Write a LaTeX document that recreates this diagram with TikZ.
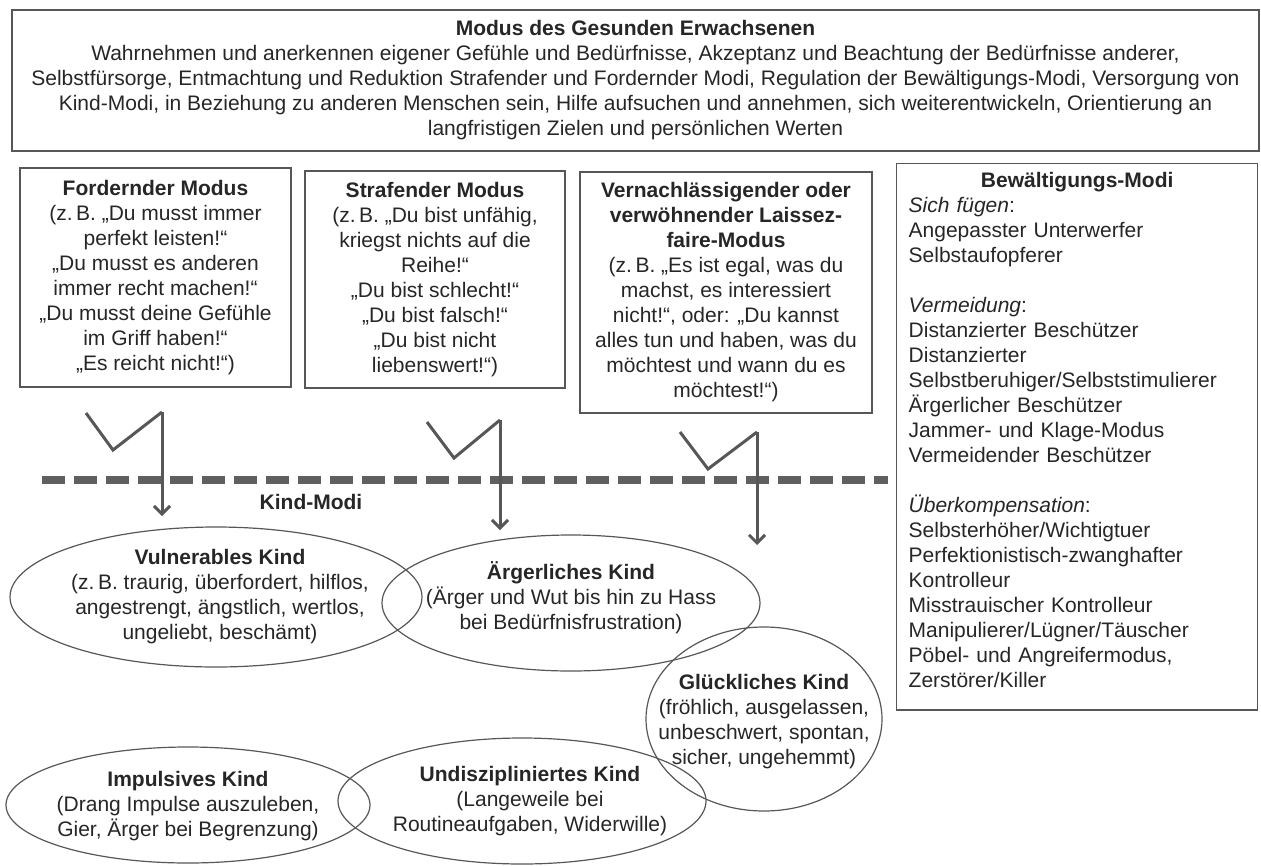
\documentclass[tikz,border=0pt]{standalone}
\usepackage{fontspec}
\setmainfont{Liberation Sans}
\usetikzlibrary{arrows.meta}
\definecolor{linegray}{HTML}{575757}
\definecolor{textgray}{HTML}{262626}

\begin{document}
\begin{tikzpicture}
    [
    x=1pt,y=-1pt,
    every node/.style={font=\fontsize{21}{25}\selectfont,text=textgray},
    modebox/.style={draw=linegray,line width=1.4pt,align=center,inner sep=0pt},
    kidtext/.style={align=center,inner sep=0pt},
    kidring/.style={draw=linegray,line width=1.2pt},
    zap/.style={draw=linegray,line width=3pt,line join=miter},
    zaparrow/.style={zap,-{Straight Barb[length=8pt,width=16pt]}},
    kidline/.style={draw=linegray!95,line width=8pt,dash pattern=on 23pt off 9pt},
    ]
    \useasboundingbox (0,0) rectangle (1261,865);
    % gesunder Erwachsener
    \node (adult) at (635.5,80.5) [modebox,minimum width=1247pt,minimum height=141pt]
      {\textbf{Modus des Gesunden Erwachsenen}\\
       Wahrnehmen und anerkennen eigener Gefühle und Bedürfnisse, Akzeptanz und Beachtung der Bedürfnisse anderer,\\
       Selbstfürsorge, Entmachtung und Reduktion Strafender und Fordernder Modi, Regulation der Bewältigungs-Modi, Versorgung von\\
       Kind-Modi, in Beziehung zu anderen Menschen sein, Hilfe aufsuchen und annehmen, sich weiterentwickeln, Orientierung an\\
       langfristigen Zielen und persönlichen Werten};
    % Elternmodi
    \node (demand) at (155.5,277.5) [modebox,minimum width=271pt,minimum height=219pt]
      {\textbf{Fordernder Modus}\\
       (z.\,B. „Du musst immer\\ perfekt leisten!“\\ „Du musst es anderen\\ immer recht machen!“\\
       „Du musst deine Gefühle\\ im Griff haben!“\\ „Es reicht nicht!“)};
    \node (punish) at (435,279.5) [modebox,minimum width=260pt,minimum height=217pt]
      {\textbf{Strafender Modus}\\
       (z.\,B. „Du bist unfähig,\\ kriegst nichts auf die\\ Reihe!“\\ „Du bist schlecht!“\\
       „Du bist falsch!“\\ „Du bist nicht\\ liebenswert!“)};
    \node (laissez) at (726,292.5) [modebox,minimum width=292pt,minimum height=241pt]
      {\textbf{Vernachlässigender oder}\\ \textbf{verwöhnender Laissez-}\\ \textbf{faire-Modus}\\
       (z.\,B. „Es ist egal, was du\\ machst, es interessiert\\ nicht!“, oder: „Du kannst\\
       alles tun und haben, was du\\ möchtest und wann du es\\ möchtest!“)};
    % Bewaeltigungsmodi
    \node (coping) at (896,163) [modebox,anchor=north west,align=left,text width=337pt,
      inner xsep=12pt,inner ysep=9pt]
      {\makebox[\linewidth]{\textbf{Bewältigungs-Modi}}\\
       \textit{Sich fügen}:\\ Angepasster Unterwerfer\\ Selbstaufopferer\\[25pt]
       \textit{Vermeidung}:\\ Distanzierter Beschützer\\ Distanzierter\\
       Selbstberuhiger/Selbststimulierer\\ Ärgerlicher Beschützer\\
       Jammer- und Klage-Modus\\ Vermeidender Beschützer\\[25pt]
       \textit{Überkompensation}:\\ Selbsterhöher/Wichtigtuer\\ Perfektionistisch-zwanghafter\\
       Kontrolleur\\ Misstrauischer Kontrolleur\\ Manipulierer/Lügner/Täuscher\\
       Pöbel- und Angreifermodus,\\ Zerstörer/Killer\rule[-13pt]{0pt}{14pt}};
    % Grenze zu den Kind-Modi
    \coordinate (kl) at (42,480);
    \coordinate (kr) at (888,480);
    \draw [kidline] (kl) -- (kr);
    \node (kidlabel) at (311,502) {\textbf{Kind-Modi}};
    % Blitze
    \coordinate (d1) at (86,413);
    \coordinate (d2) at (113,450);
    \coordinate (d3) at (162,412);
    \coordinate (d4) at (162,516);
    \coordinate (p1) at (427,422);
    \coordinate (p2) at (454,458);
    \coordinate (p3) at (500,420);
    \coordinate (p4) at (500,530);
    \coordinate (l1) at (680,432);
    \coordinate (l2) at (708,469);
    \coordinate (l3) at (757,432);
    \coordinate (l4) at (757,545);
    \draw [zap] (d1) -- (d2) -- (d3);
    \draw [zaparrow] (d3) -- (d4);
    \draw [zap] (p1) -- (p2) -- (p3);
    \draw [zaparrow] (p3) -- (p4);
    \draw [zap] (l1) -- (l2) -- (l3);
    \draw [zaparrow] (l3) -- (l4);
    % Kind-Modi
    \node (vulnerable) at (220,597) [kidtext]
      {\textbf{Vulnerables Kind}\\ (z.\,B. traurig, überfordert, hilflos,\\
       angestrengt, ängstlich, wertlos,\\ ungeliebt, beschämt)};
    \node (angry) at (571,598) [kidtext]
      {\textbf{Ärgerliches Kind}\\ (Ärger und Wut bis hin zu Hass\\ bei Bedürfnisfrustration)};
    \node (happy) at (764,722) [kidtext]
      {\textbf{Glückliches Kind}\\ (fröhlich, ausgelassen,\\ unbeschwert, spontan,\\ sicher, ungehemmt)};
    \node (impulsive) at (188,806) [kidtext]
      {\textbf{Impulsives Kind}\\ (Drang Impulse auszuleben,\\ Gier, Ärger bei Begrenzung)};
    \node (undisciplined) at (530,801) [kidtext]
      {\textbf{Undiszipliniertes Kind}\\ (Langeweile bei\\ Routineaufgaben, Widerwille)};
    \draw [kidring] ([xshift=-4pt]vulnerable.center) ellipse [x radius=206, y radius=70];
    \draw [kidring] ([yshift=-5pt]angry.center) ellipse [x radius=189, y radius=68];
    \draw [kidring] ([yshift=3pt]happy.center) ellipse [x radius=118, y radius=92];
    \draw [kidring] ([yshift=1pt]impulsive.center) ellipse [x radius=182, y radius=58];
    \draw [kidring] ([xshift=-8pt]undisciplined.center) ellipse [x radius=184, y radius=63];
\end{tikzpicture}
\end{document}
